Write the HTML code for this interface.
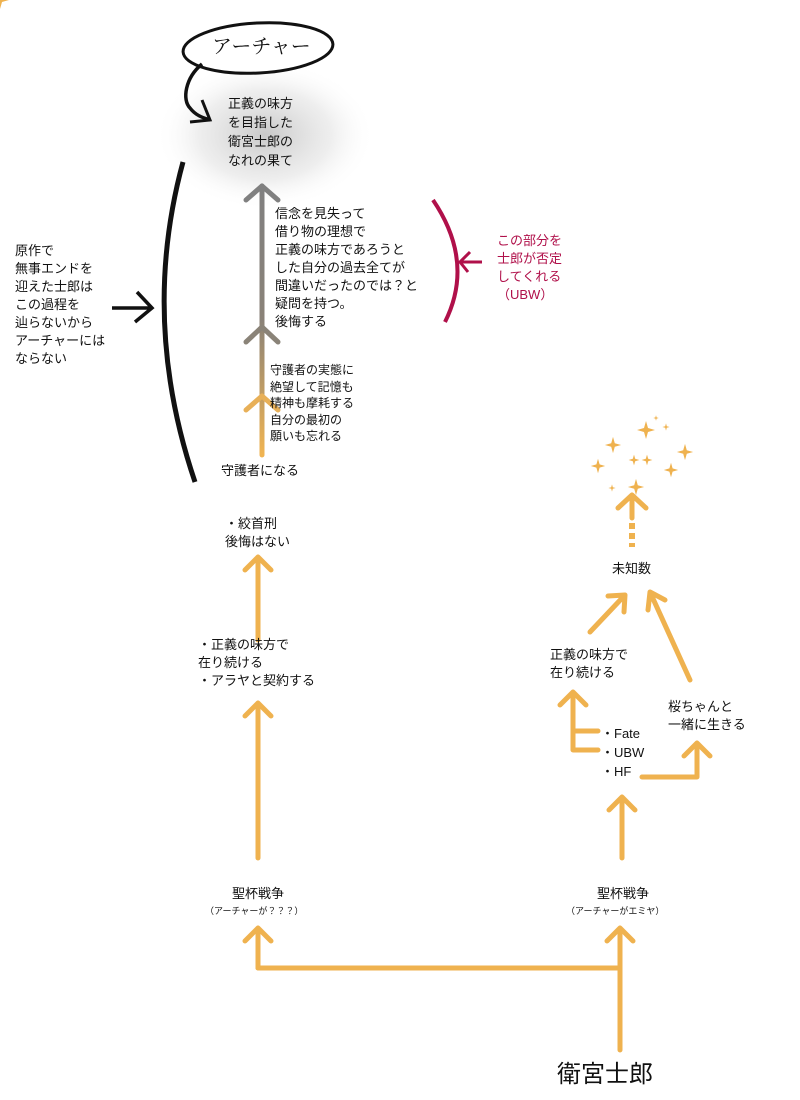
<!DOCTYPE html>
<html><head><meta charset="utf-8"><style>
body{margin:0;width:800px;height:1100px;background:#fff;position:relative;overflow:hidden;font-family:"Liberation Sans","Noto Sans CJK JP",sans-serif;color:#111}
.t{position:absolute;font-size:13px;line-height:18px;white-space:nowrap}
svg{position:absolute;left:0;top:0}
</style></head><body>
<svg width="800" height="1100" viewBox="0 0 800 1100">
<defs>
<radialGradient id="g" cx="0.5" cy="0.5" r="0.5"><stop offset="0" stop-color="#bbb" stop-opacity="0.8"/><stop offset="0.6" stop-color="#ddd" stop-opacity="0.5"/><stop offset="1" stop-color="#fff" stop-opacity="0"/></radialGradient>
<linearGradient id="lg" x1="0" y1="185" x2="0" y2="455" gradientUnits="userSpaceOnUse"><stop offset="0" stop-color="#808080"/><stop offset="0.5" stop-color="#8a8278"/><stop offset="1" stop-color="#f0b452"/></linearGradient>
</defs>
<ellipse cx="265" cy="135" rx="110" ry="75" fill="url(#g)"/>
<ellipse cx="258" cy="48" rx="75" ry="25" fill="#fff" stroke="#111" stroke-width="3" transform="rotate(-3 258 48)"/>
<path d="M202 64 C185 78 182 100 190 108 C196 116 204 118 210 120" fill="none" stroke="#111" stroke-width="3.5"/>
<path d="M202 100 L210 120 L190 122" fill="none" stroke="#111" stroke-width="3"/>
<g fill="none" stroke-linecap="round" stroke-linejoin="round" stroke-width="5">
<path d="M262 455 L262 186" stroke="url(#lg)"/>
<path d="M246 200 L262 186 L278 200" stroke="#808080"/>
<path d="M246 342 L262 327 L278 342" stroke="#8a8378"/>
<path d="M246 410 L262 396 L278 410" stroke="#e8b058"/>
</g>
<path d="M183 162 Q140 320 195 482" fill="none" stroke="#111" stroke-width="5"/>
<path d="M112 308 L152 308 M137 292 L152 308 L135 322" fill="none" stroke="#111" stroke-width="3.5"/>
<path d="M433 200 Q475 262 445 322" fill="none" stroke="#b0104a" stroke-width="4"/>
<path d="M482 262 L460 262 M470 252 L460 262 L468 272" fill="none" stroke="#b0104a" stroke-width="3"/>
<g fill="none" stroke="#efb24f" stroke-width="5" stroke-linecap="round" stroke-linejoin="round">
<path d="M258 640 L258 557 M245 570 L258 557 L271 570"/>
<path d="M258 858 L258 703 M245 716 L258 703 L271 716"/>
<path d="M258 968 L258 928 M245 941 L258 928 L271 941"/>
<path d="M258 968 L620 968"/>
<path d="M620 1050 L620 928 M607 941 L620 928 L633 941"/>
<path d="M622 858 L622 797 M609 810 L622 797 L635 810"/>
<path d="M642 777 L697 777 L697 743 M684 756 L697 743 L710 756"/>
<path d="M598 731 L573 731 L573 692 M560 705 L573 692 L586 705 M573 750 L598 750 M573 731 L573 750"/>
<path d="M590 632 L625 595 M608 596 L625 595 L624 612"/>
<path d="M690 680 L650 592 M648 610 L650 592 L665 600"/>
<path d="M632 518 L632 495 M618 508 L632 495 L646 508"/>
</g>
<g fill="#efb24f">
<rect x="629" y="523" width="6" height="6"/><rect x="629" y="533" width="6" height="6"/><rect x="629" y="543" width="6" height="4"/>
<path id="s" d="M0 -9 L2 -2 L9 0 L2 2 L0 9 L-2 2 L-9 0 L-2 -2Z"/>
<use href="#s" transform="translate(646 430)"/>
<use href="#s" transform="translate(613 445) scale(.9)"/>
<use href="#s" transform="translate(685 452) scale(.9)"/>
<use href="#s" transform="translate(634 460) scale(.6)"/>
<use href="#s" transform="translate(647 460) scale(.6)"/>
<use href="#s" transform="translate(598 466) scale(.8)"/>
<use href="#s" transform="translate(671 470) scale(.8)"/>
<use href="#s" transform="translate(636 487) scale(.9)"/>
<use href="#s" transform="translate(666 427) scale(.4)"/>
<use href="#s" transform="translate(612 488) scale(.4)"/>
<use href="#s" transform="translate(656 418) scale(.3)"/>
</g>
</svg>
<div class="t" style="left:212px;top:36px;font-size:20px;line-height:22px;font-family:'Liberation Serif','Noto Serif CJK SC',serif">アーチャー</div>
<div class="t" style="left:228px;top:94px;line-height:19px">正義の味方<br>を目指した<br>衛宮士郎の<br>なれの果て</div>
<div class="t" style="left:275px;top:205px;line-height:18px">信念を見失って<br>借り物の理想で<br>正義の味方であろうと<br>した自分の過去全てが<br>間違いだったのでは？と<br>疑問を持つ。<br>後悔する</div>
<div class="t" style="left:270px;top:362px;font-size:12px;line-height:16.5px">守護者の実態に<br>絶望して記憶も<br>精神も摩耗する<br>自分の最初の<br>願いも忘れる</div>
<div class="t" style="left:221px;top:462px">守護者になる</div>
<div class="t" style="left:15px;top:242px;line-height:18px">原作で<br>無事エンドを<br>迎えた士郎は<br>この過程を<br>辿らないから<br>アーチャーには<br>ならない</div>
<div class="t" style="left:497px;top:232px;color:#b0104a;line-height:18px">この部分を<br>士郎が否定<br>してくれる<br>（UBW）</div>
<div class="t" style="left:225px;top:515px">・絞首刑<br>後悔はない</div>
<div class="t" style="left:198px;top:636px">・正義の味方で<br>在り続ける<br>・アラヤと契約する</div>
<div class="t" style="left:232px;top:885px">聖杯戦争</div>
<div class="t" style="left:205px;top:902px;font-size:9px">（アーチャーが？？？）</div>
<div class="t" style="left:597px;top:885px">聖杯戦争</div>
<div class="t" style="left:566px;top:902px;font-size:9px">（アーチャーがエミヤ）</div>
<div class="t" style="left:557px;top:1060px;font-size:24px;line-height:30px">衛宮士郎</div>
<div class="t" style="left:612px;top:560px">未知数</div>
<div class="t" style="left:550px;top:646px">正義の味方で<br>在り続ける</div>
<div class="t" style="left:668px;top:698px">桜ちゃんと<br>一緒に生きる</div>
<div class="t" style="left:601px;top:724px;line-height:19px">・Fate<br>・UBW<br>・HF</div>
</body></html>
